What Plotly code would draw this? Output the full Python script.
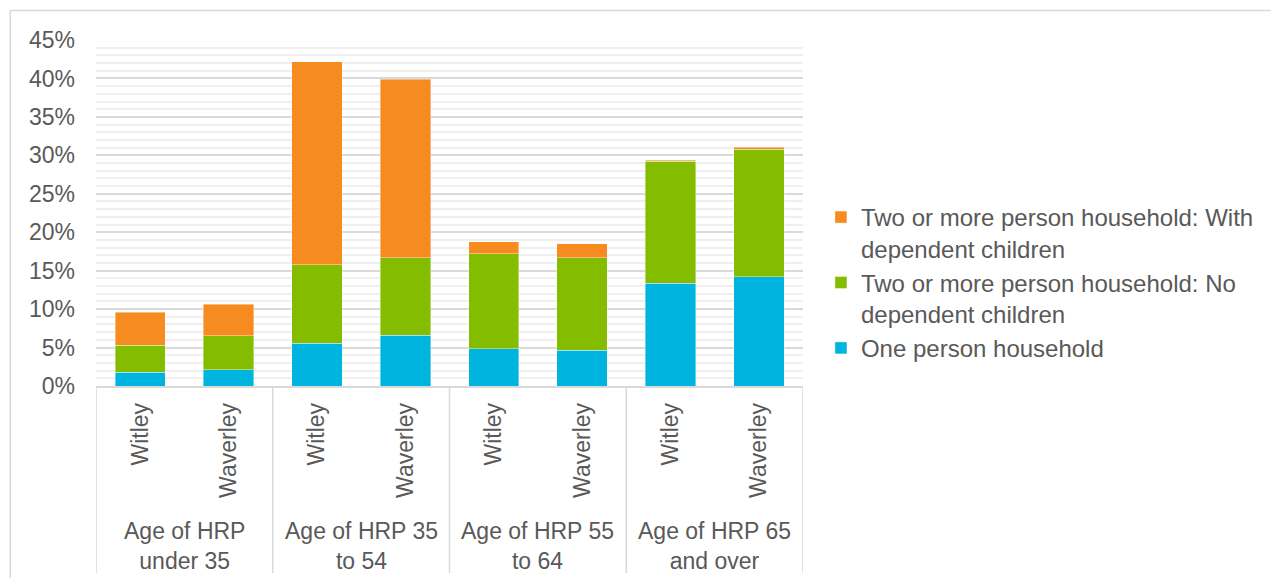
import numpy as np
import plotly.graph_objects as go

# Household composition by age of household reference person (HRP), % of households
groups = ["Age of HRP<br>under 35", "Age of HRP 35<br>to 54", "Age of HRP 55<br>to 64", "Age of HRP 65<br>and over"]
areas = ["Witley", "Waverley"]

one_person = [1.82, 2.13, 5.59, 6.63, 4.86, 4.64, 13.39, 14.22]
two_plus_no_children = [3.51, 4.42, 10.20, 10.07, 12.34, 12.01, 15.87, 16.56]
two_plus_with_children = [4.25, 4.07, 26.39, 23.18, 1.58, 1.82, 0.13, 0.26]

series_names = [
    "One person household",
    "Two or more person household: No<br>dependent children",
    "Two or more person household: With<br>dependent children",
]
series_values = [one_person, two_plus_no_children, two_plus_with_children]
series_colors = ["#00B4E0", "#84BD00", "#F68B1F"]

y_ticks = [0, 5, 10, 15, 20, 25, 30, 35, 40, 45]

FONT = "Liberation Sans, Arial, sans-serif"
TEXT = "#595959"
GRID = "#D9D9D9"
MINOR = "#EFEFEF"

n_areas = len(areas)
x_pos = np.arange(len(groups) * n_areas)
x_labels = [areas[i % n_areas] for i in range(len(x_pos))]

fig = go.Figure()
for name, vals, col in zip(series_names, series_values, series_colors):
    fig.add_trace(go.Bar(
        x=x_pos, y=vals, name=name,
        marker=dict(color=col, line=dict(color="rgba(255,255,255,0.5)", width=0.8)),
        hovertemplate="%{y:.1f}%<extra></extra>",
    ))

W, H = 1271, 578
L, R, T, B = 96, 466, 40, 192
pw, ph = W - L - R, H - T - B

def px_x(p):
    return (p - L) / pw

def px_y(p):
    return (H - B - p) / ph

shapes = []
# outer chart frame
shapes.append(dict(type="rect", xref="paper", yref="paper",
                   x0=px_x(10), x1=px_x(1290), y0=px_y(10.5), y1=px_y(600),
                   line=dict(color=GRID, width=1.5), fillcolor="rgba(0,0,0,0)", layer="below"))
# vertical dividers of the category axis
for k in range(len(groups) + 1):
    xd = k * n_areas - 0.5
    shapes.append(dict(type="line", xref="x", yref="paper",
                       x0=xd, x1=xd, y0=0, y1=px_y(573),
                       line=dict(color=GRID, width=1.5)))

annotations = []
for k, g in enumerate(groups):
    annotations.append(dict(
        x=k * n_areas + (n_areas - 1) / 2, xref="x",
        y=px_y(546), yref="paper", yanchor="middle",
        text=g, showarrow=False, align="center",
        font=dict(family=FONT, size=23, color=TEXT),
    ))

fig.update_layout(
    width=W, height=H,
    margin=dict(l=L, r=R, t=T, b=B, pad=0),
    paper_bgcolor="white", plot_bgcolor="white",
    barmode="stack", bargap=0.43,
    font=dict(family=FONT, size=23, color=TEXT),
    showlegend=True,
    legend=dict(
        x=px_x(823), xanchor="left", y=px_y(195), yanchor="top",
        traceorder="reversed", valign="top",
        font=dict(family=FONT, size=24, color=TEXT),
        bgcolor="rgba(0,0,0,0)", tracegroupgap=8,
    ),
    xaxis=dict(
        range=[-0.5, len(x_pos) - 0.5],
        tickmode="array", tickvals=x_pos, ticktext=x_labels,
        tickangle=-90, ticks="", showgrid=False, zeroline=False,
        showline=True, linecolor=GRID, linewidth=1.5,
        ticklabelstandoff=6,
        tickfont=dict(family=FONT, size=23, color=TEXT),
    ),
    yaxis=dict(
        range=[0, 45], tickmode="array", tickvals=y_ticks,
        ticktext=[f"{v}%" for v in y_ticks],
        showgrid=True, gridcolor=GRID, gridwidth=1.5,
        minor=dict(dtick=1, tick0=0, showgrid=True, gridcolor=MINOR, gridwidth=1.5),
        zeroline=False, showline=False, ticks="",
        ticklabelstandoff=20,
        tickfont=dict(family=FONT, size=23, color=TEXT),
    ),
    shapes=shapes, annotations=annotations,
)

fig.write_html("out.html")
